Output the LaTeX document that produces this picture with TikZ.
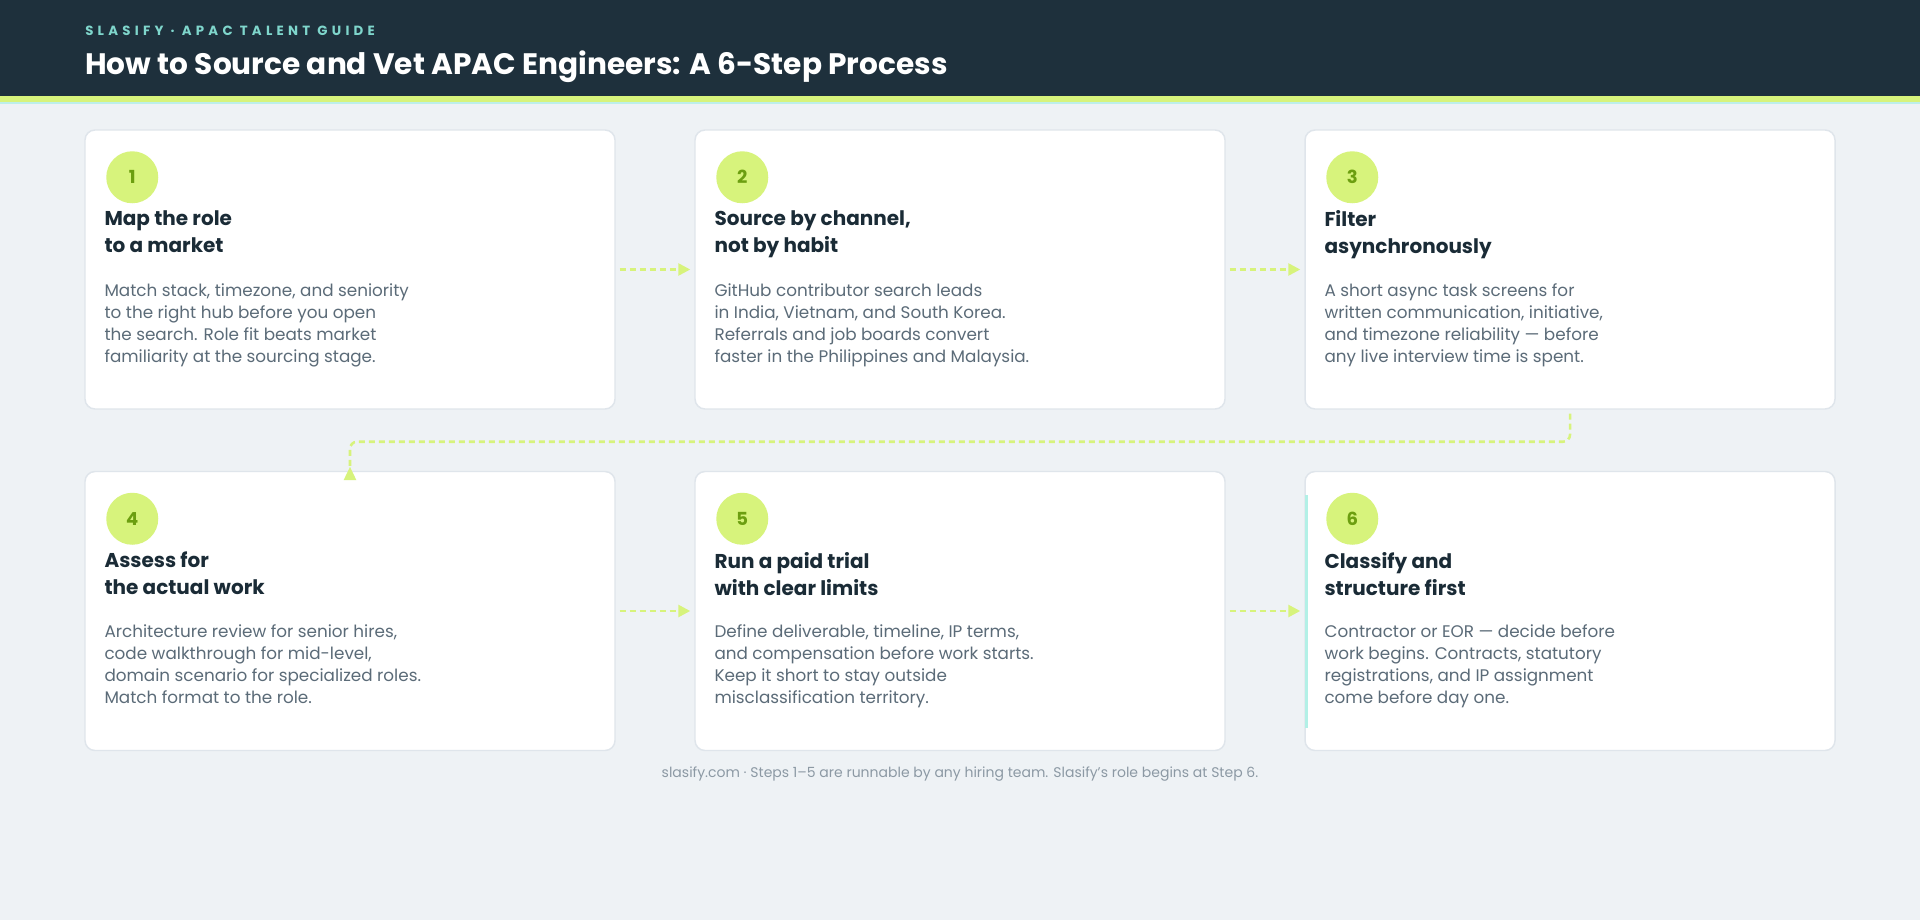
\documentclass[tikz,border=0pt]{standalone}
\usepackage{fontspec}
\setmainfont{Poppins}
\usetikzlibrary{arrows.meta}
\definecolor{pagebg}{HTML}{EEF2F5}
\definecolor{navy}{HTML}{1E303C}
\definecolor{lime}{HTML}{D7F37C}
\definecolor{mint}{HTML}{BDEFEA}
\definecolor{teal}{HTML}{7FD6CC}
\definecolor{numgreen}{HTML}{6C9E10}
\definecolor{inkdark}{HTML}{1A2B36}
\definecolor{inkbody}{HTML}{5B6B78}
\definecolor{inkfoot}{HTML}{8C99A4}
\definecolor{cardline}{HTML}{DFE5EB}
\definecolor{accent}{HTML}{B2F0E6}
\tikzset{
  card/.style={draw=cardline, line width=1.1pt, fill=white, rounded corners=7.5pt,
    minimum width=397.5pt, minimum height=209.25pt, inner sep=0pt},
  num/.style={circle, fill=lime, minimum size=39pt, inner sep=0pt, text=numgreen,
    font=\fontsize{13.5}{15}\selectfont\bfseries},
  head/.style={anchor=north west, align=left, inner sep=0pt, text=inkdark,
    font=\fontsize{15}{20.25}\selectfont\bfseries},
  body/.style={anchor=north west, align=left, inner sep=0pt, text=inkbody,
    font=\fontsize{12.6}{16.5}\selectfont},
  flow/.style={draw=lime, line width=1.9pt, dash pattern=on 4.5pt off 3pt,
    shorten <=3pt, shorten >=3pt}
}
\begin{document}
\begin{tikzpicture}[x=0.75pt,y=-0.75pt]
% page and header band
\useasboundingbox (0,0) rectangle (1920,920);
\fill[pagebg] (0,0) rectangle (1920,920);
\fill[navy] (0,0) rectangle (1920,96);
\fill[lime] (0,96) rectangle (1920,102);
\fill[mint] (0,102) rectangle (1920,104.5);
\node[anchor=base west, inner sep=0pt, text=teal,
  font=\fontsize{10}{12}\selectfont\bfseries\addfontfeature{LetterSpace=32}] (sub) at (85,36) {SLASIFY · APAC TALENT GUIDE};
\node[anchor=base west, inner sep=0pt, text=white,
  font=\fontsize{22.2}{26}\selectfont\bfseries] (title) at (85,75) {How to Source and Vet APAC Engineers: A 6-Step Process};

% the six step cards
\foreach \n/\x/\y/\ttl/\txt in {
  1/350/269.5/{Map the role\\to a market}/{Match stack, timezone, and seniority\\to the right hub before you open\\the search. Role fit beats market\\familiarity at the sourcing stage.},
  2/960/269.5/{Source by channel,\\not by habit}/{GitHub contributor search leads\\in India, Vietnam, and South Korea.\\Referrals and job boards convert\\faster in the Philippines and Malaysia.},
  3/1570/269.5/{Filter\\asynchronously}/{A short async task screens for\\written communication, initiative,\\and timezone reliability — before\\any live interview time is spent.},
  4/350/611/{Assess for\\the actual work}/{Architecture review for senior hires,\\code walkthrough for mid-level,\\domain scenario for specialized roles.\\Match format to the role.},
  5/960/611/{Run a paid trial\\with clear limits}/{Define deliverable, timeline, IP terms,\\and compensation before work starts.\\Keep it short to stay outside\\misclassification territory.},
  6/1570/611/{Classify and\\structure first}/{Contractor or EOR — decide before\\work begins. Contracts, statutory\\registrations, and IP assignment\\come before day one.}}
{
  \node[card] (c\n) at (\x,\y) {};
  \node[num] (n\n) at ([shift={(48,48)}]c\n.north west) {\n};
  \node[head] (h\n) at ([shift={(20,81)}]c\n.north west) {\ttl};
  \node[body] (t\n) at ([shift={(20,154)}]c\n.north west) {\txt};
}
\fill[accent] ([shift={(1,24.5)}]c6.north west) rectangle ([shift={(4,-23.5)}]c6.south west);

% connectors
\draw[flow, -{Triangle[length=9pt,width=9pt]}] (c1.east) -- (c2.west);
\draw[flow, -{Triangle[length=9pt,width=9pt]}] (c2.east) -- (c3.west);
\draw[flow, -{Triangle[length=9pt,width=9pt]}] (c4.east) -- (c5.west);
\draw[flow, -{Triangle[length=9pt,width=9pt]}] (c5.east) -- (c6.west);
\draw[flow, rounded corners=5.25pt, shorten >=-7pt, -{Triangle[reversed,length=10pt,width=9pt]}]
  (c3.south) -- ++(0,32) -| (c4.north);

\node[anchor=base, inner sep=0pt, text=inkfoot, font=\fontsize{10.5}{12}\selectfont] (foot) at (960,777)
  {slasify.com · Steps 1–5 are runnable by any hiring team. Slasify's role begins at Step 6.};
\end{tikzpicture}
\end{document}
